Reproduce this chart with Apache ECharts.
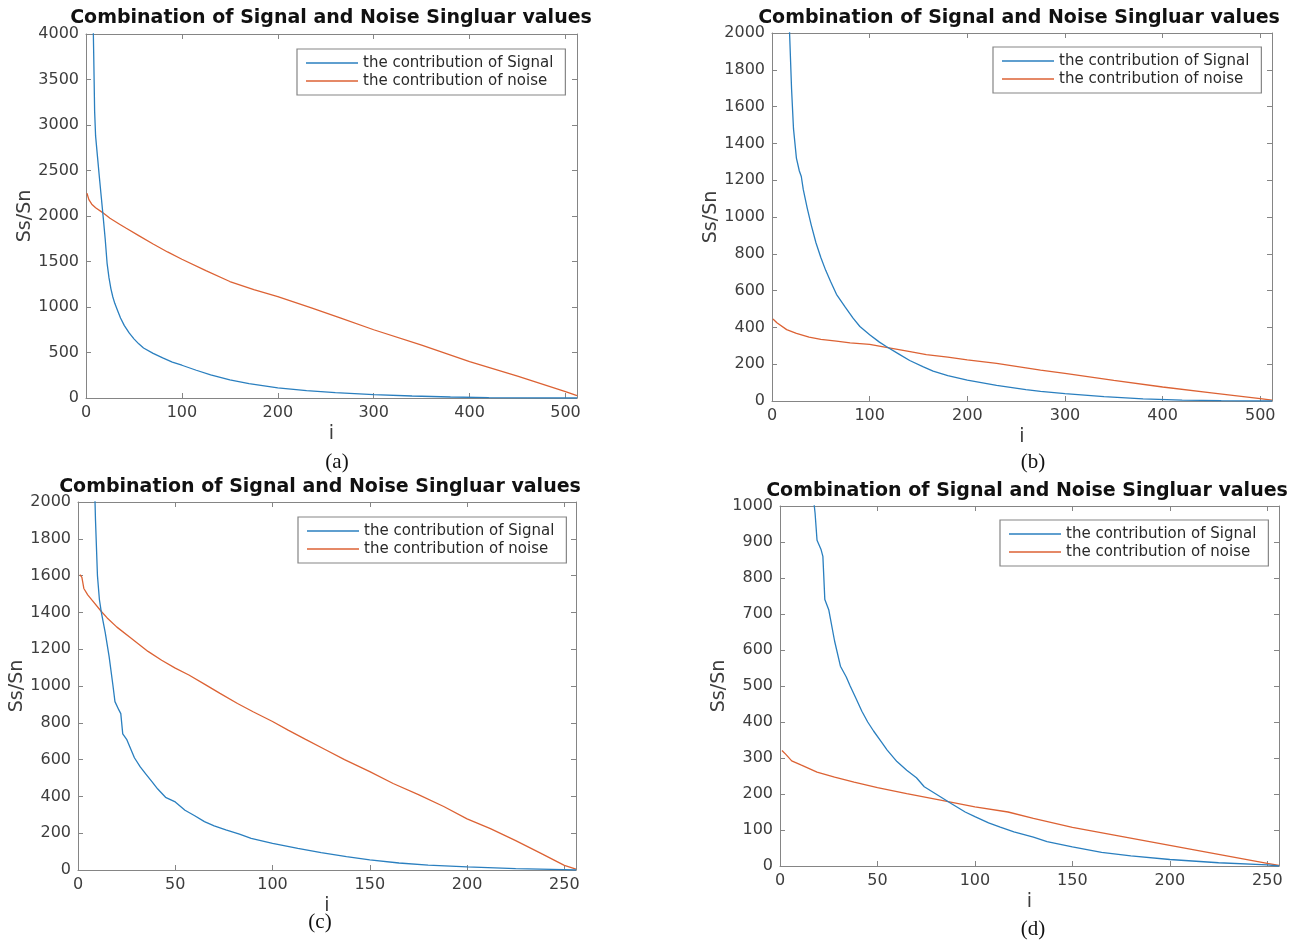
<!DOCTYPE html>
<html>
<head>
<meta charset="utf-8">
<script src="https://cdn.jsdelivr.net/npm/echarts@6/dist/echarts.min.js"></script>
<style>
html,body{margin:0;padding:0;background:#fff;}
#chart{width:1290px;height:942px;}
</style>
</head>
<body>
<div id="chart"></div>
<script>
// ---------------- data ----------------
const titleText = 'Combination of Signal and Noise Singluar values';
const seriesNames = ['the contribution of Signal', 'the contribution of noise'];
const captions = ['(a)', '(b)', '(c)', '(d)'];
const xAxisName = 'i';
const yAxisName = 'Ss/Sn';

// panel (a)
const aSignalI = [1, 4, 7, 8, 9, 10, 12, 14, 16, 18, 20, 22, 24, 26, 28, 30, 33, 36, 40, 45, 50, 55, 60, 70, 80, 90, 100, 115, 130, 150, 170, 200, 230, 260, 300, 340, 380, 420, 460, 512];
const aSignalV = [12000, 7000, 4400, 3800, 3150, 2880, 2650, 2420, 2200, 1980, 1750, 1480, 1320, 1200, 1110, 1040, 960, 880, 795, 715, 650, 595, 550, 490, 440, 395, 360, 305, 255, 198, 158, 112, 80, 58, 38, 22, 11, 5, 2, 0];
const aNoiseI = [1, 3, 6, 10, 17, 25, 35, 42, 55, 70, 85, 100, 125, 150, 175, 200, 235, 265, 300, 350, 400, 450, 500, 512];
const aNoiseV = [2250, 2180, 2130, 2090, 2040, 1975, 1910, 1865, 1785, 1692, 1605, 1525, 1400, 1280, 1190, 1115, 990, 880, 750, 580, 400, 240, 70, 25];

// panel (b)
const bSignalI = [1, 10, 15, 18, 20, 22, 25, 28, 30, 32, 36, 40, 45, 50, 55, 60, 66, 75, 83, 90, 100, 110, 117, 130, 141, 155, 165, 180, 200, 230, 260, 275, 300, 340, 380, 420, 460, 512];
const bSignalV = [9000, 3500, 2500, 2000, 1700, 1480, 1320, 1250, 1220, 1150, 1050, 960, 860, 780, 710, 650, 580, 510, 450, 405, 360, 320, 296, 255, 220, 185, 162, 138, 114, 85, 62, 52, 40, 24, 12, 5, 2, 0];
const bNoiseI = [1, 5, 15, 25, 38, 50, 66, 80, 100, 117, 140, 158, 180, 200, 230, 260, 275, 300, 350, 400, 450, 500, 512];
const bNoiseV = [446, 425, 388, 368, 347, 335, 325, 316, 308, 292, 270, 252, 238, 224, 204, 180, 168, 150, 112, 76, 44, 13, 5];

// panel (c)
const cSignalI = [1, 5, 8, 9, 10, 11, 12, 14, 16, 18, 19, 21, 22, 23, 25, 27, 29, 32, 35, 38, 41, 45, 50, 55, 60, 65, 70, 76, 83, 89, 100, 113, 125, 138, 150, 165, 180, 200, 225, 250, 256];
const cSignalV = [9000, 4000, 2300, 1900, 1600, 1470, 1400, 1290, 1160, 1000, 915, 870, 850, 740, 710, 660, 610, 560, 520, 480, 440, 395, 370, 325, 295, 263, 240, 218, 195, 172, 145, 118, 95, 73, 55, 38, 27, 17, 8, 2, 0];
const cNoiseI = [1, 2, 3, 5, 7, 12, 15, 20, 27, 36, 43, 50, 57, 65, 73, 82, 90, 100, 108, 117, 127, 137, 150, 162, 175, 188, 200, 212, 225, 238, 250, 256];
const cNoiseV = [1605, 1590, 1530, 1495, 1469, 1405, 1370, 1320, 1262, 1188, 1140, 1097, 1060, 1010, 960, 905, 860, 807, 760, 710, 655, 600, 535, 470, 410, 345, 278, 225, 160, 90, 25, 5];

// panel (d)
const dSignalI = [1, 10, 15, 17, 18, 19, 21, 22, 23, 25, 28, 31, 34, 36, 39, 42, 45, 48, 52, 55, 60, 65, 70, 74, 80, 88, 95, 100, 107, 113, 120, 130, 137, 150, 165, 180, 200, 225, 250, 256];
const dSignalV = [5000, 1800, 1200, 1030, 980, 905, 880, 860, 740, 712, 625, 555, 525, 500, 465, 430, 400, 375, 345, 322, 290, 266, 245, 220, 200, 173, 150, 137, 120, 108, 95, 80, 68, 53, 38, 28, 18, 9, 3, 0];
const dNoiseI = [1, 3, 6, 11, 19, 28, 38, 50, 65, 83, 100, 117, 130, 150, 175, 200, 225, 250, 256];
const dNoiseV = [321, 310, 292, 280, 261, 247, 233, 218, 201, 182, 164, 150, 132, 107, 82, 57, 32, 7, 2];

// axis ranges / tick steps
const xMaxes = [512, 512, 256, 256];
const xSteps = [100, 100, 50, 50];
const yMaxes = [4000, 2000, 2000, 1000];
const ySteps = [500, 200, 200, 100];

// ---------------- layout / style ----------------
const FONT = 'DejaVu Sans';
const BLUE = '#2a7fbf';
const ORANGE = '#dc6234';
const FRAME = '#858585';
const LABEL = '#3d3d3d';

const grids = [
  {left: 86, top: 34, width: 491, height: 364},
  {left: 772, top: 33, width: 500, height: 368},
  {left: 78, top: 502, width: 498, height: 368},
  {left: 780, top: 506, width: 499, height: 360}
];
const legendPos = [
  {left: 297, top: 49},
  {left: 993, top: 47},
  {left: 298, top: 517},
  {left: 1000, top: 520}
];
const titlePos = [[331, 18], [1019, 18], [320, 487], [1027, 491]];
const captionPos = [[337, 462], [1033, 462], [320, 922], [1033, 929]];

const pairs = (xs, ys) => xs.map((x, k) => [x, ys[k]]);
const signalData = [pairs(aSignalI, aSignalV), pairs(bSignalI, bSignalV), pairs(cSignalI, cSignalV), pairs(dSignalI, dSignalV)];
const noiseData = [pairs(aNoiseI, aNoiseV), pairs(bNoiseI, bNoiseV), pairs(cNoiseI, cNoiseV), pairs(dNoiseI, dNoiseV)];

const xAxes = [], yAxes = [], series = [], legends = [], graphics = [];
const plain = v => String(v);

for (let p = 0; p < 4; p++) {
  const common = {
    type: 'value', gridIndex: p,
    axisLine: {show: true, onZero: false, lineStyle: {color: FRAME, width: 1}},
    axisTick: {show: true, inside: true, length: 5, lineStyle: {color: FRAME}},
    splitLine: {show: false}
  };
  // bottom x
  xAxes.push(Object.assign({}, common, {
    position: 'bottom', min: 0, max: xMaxes[p], interval: xSteps[p],
    name: xAxisName, nameLocation: 'middle', nameGap: 27,
    nameTextStyle: {fontFamily: FONT, fontSize: 19, color: LABEL},
    axisLabel: {show: true, margin: 7, fontFamily: FONT, fontSize: 16, color: LABEL, formatter: plain,
      showMaxLabel: xMaxes[p] % xSteps[p] === 0, showMinLabel: true}
  }));
  // top x (frame + ticks)
  xAxes.push(Object.assign({}, common, {
    position: 'top', min: 0, max: xMaxes[p], interval: xSteps[p],
    axisLabel: {show: false}
  }));
  // left y
  yAxes.push(Object.assign({}, common, {
    position: 'left', min: 0, max: yMaxes[p], interval: ySteps[p],
    name: yAxisName, nameLocation: 'middle', nameGap: 51, nameRotate: 90,
    nameTextStyle: {fontFamily: FONT, fontSize: 19, color: LABEL},
    axisLabel: {show: true, margin: 7, fontFamily: FONT, fontSize: 16, color: LABEL, formatter: plain,
      showMaxLabel: true, showMinLabel: true}
  }));
  // right y (frame + ticks)
  yAxes.push(Object.assign({}, common, {
    position: 'right', min: 0, max: yMaxes[p], interval: ySteps[p],
    axisLabel: {show: false}
  }));

  series.push({
    name: seriesNames[0], type: 'line', xAxisIndex: 2 * p, yAxisIndex: 2 * p,
    data: signalData[p], symbol: 'none', showSymbol: false, clip: true, silent: true,
    lineStyle: {color: BLUE, width: 1.3}, itemStyle: {color: BLUE}, z: 3
  });
  series.push({
    name: seriesNames[1], type: 'line', xAxisIndex: 2 * p, yAxisIndex: 2 * p,
    data: noiseData[p], symbol: 'none', showSymbol: false, clip: true, silent: true,
    lineStyle: {color: ORANGE, width: 1.3}, itemStyle: {color: ORANGE}, z: 2
  });

  legends.push({
    orient: 'vertical', left: legendPos[p].left, top: legendPos[p].top,
    padding: [6, 12, 6, 9], itemGap: 2, itemWidth: 52, itemHeight: 1.6, icon: 'rect',
    borderColor: FRAME, borderWidth: 1.2, backgroundColor: '#fff',
    selectedMode: false, data: seriesNames.slice(),
    textStyle: {fontFamily: FONT, fontSize: 15, lineHeight: 16, color: '#2a2a2a'}
  });

  graphics.push({
    type: 'text', x: titlePos[p][0], y: titlePos[p][1],
    style: {text: titleText, font: 'bold 19px "DejaVu Sans"', fill: '#111',
      align: 'center', verticalAlign: 'middle', textAlign: 'center', textVerticalAlign: 'middle'}
  });
  graphics.push({
    type: 'text', x: captionPos[p][0], y: captionPos[p][1],
    style: {text: captions[p], font: '21px "Liberation Serif"', fill: '#111',
      align: 'center', verticalAlign: 'middle', textAlign: 'center', textVerticalAlign: 'middle'}
  });
}

const chart = echarts.init(document.getElementById('chart'), null, {renderer: 'canvas'});
chart.setOption({
  animation: false,
  backgroundColor: '#fff',
  grid: grids.map(g => Object.assign({containLabel: false, outerBoundsMode: 'none'}, g)),
  xAxis: xAxes,
  yAxis: yAxes,
  legend: legends,
  series: series,
  graphic: graphics
});
</script>
</body>
</html>
